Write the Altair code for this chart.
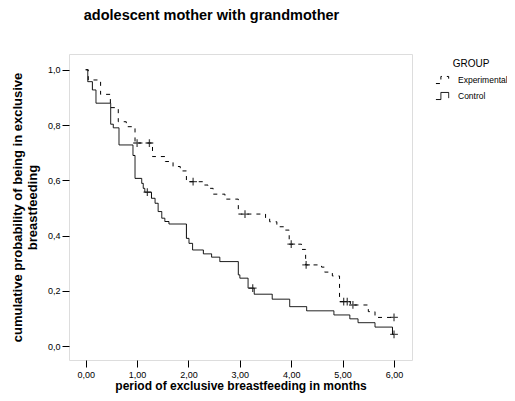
import altair as alt
import pandas as pd

# Kaplan-Meier step curves (time in months, cumulative probability)
exp_t = [0.0, 0.05, 0.29, 0.48, 0.634, 0.79, 0.96, 1.30, 1.55, 1.70, 1.84, 1.96, 2.29, 2.38, 2.48,
         2.71, 2.97, 3.50, 3.58, 3.72, 3.86, 3.96, 4.20, 4.28, 4.59, 4.65, 4.80, 4.94, 5.15, 5.50, 5.63, 6.0]
exp_s = [1.0, 0.963, 0.911, 0.863, 0.812, 0.794, 0.735, 0.686, 0.668, 0.650, 0.634, 0.595, 0.583, 0.571, 0.550,
         0.532, 0.478, 0.462, 0.450, 0.432, 0.420, 0.369, 0.350, 0.294, 0.286, 0.268, 0.254, 0.161, 0.149, 0.125, 0.104, 0.104]

ctl_t = [0.0, 0.04, 0.13, 0.20, 0.486, 0.537, 0.648, 0.92, 0.96, 1.09, 1.12, 1.15, 1.28, 1.35, 1.41, 1.48, 1.54,
         1.62, 1.96, 2.01, 2.08, 2.29, 2.45, 2.61, 2.97, 3.00, 3.16, 3.28, 3.63, 3.97, 4.30, 4.83, 5.14, 5.30, 5.63, 5.97, 6.0]
ctl_s = [1.0, 0.957, 0.927, 0.879, 0.803, 0.790, 0.728, 0.690, 0.607, 0.589, 0.571, 0.557, 0.535, 0.517, 0.487, 0.463, 0.451,
         0.442, 0.390, 0.372, 0.348, 0.334, 0.322, 0.306, 0.258, 0.246, 0.210, 0.188, 0.170, 0.143, 0.128, 0.113, 0.099, 0.085, 0.069, 0.043, 0.043]

# censored observations
exp_cens_t = [1.0, 1.24, 2.09, 3.10, 4.00, 4.29, 5.02, 5.09, 5.20, 6.0]
exp_cens_s = [0.735, 0.735, 0.595, 0.478, 0.369, 0.294, 0.161, 0.161, 0.149, 0.104]
ctl_cens_t = [1.20, 3.25, 6.0]
ctl_cens_s = [0.557, 0.210, 0.043]

groups = ["Experimental", "Control"]
x_ticks = [0, 1, 2, 3, 4, 5, 6]
y_ticks = [0.0, 0.2, 0.4, 0.6, 0.8, 1.0]

lines = pd.concat([
    pd.DataFrame({"t": exp_t, "s": exp_s, "GROUP": groups[0]}),
    pd.DataFrame({"t": ctl_t, "s": ctl_s, "GROUP": groups[1]}),
])
cens = pd.concat([
    pd.DataFrame({"t": exp_cens_t, "s": exp_cens_s, "GROUP": groups[0]}),
    pd.DataFrame({"t": ctl_cens_t, "s": ctl_cens_s, "GROUP": groups[1]}),
])

FONT = "Liberation Sans"

xscale = alt.Scale(domain=[-0.325, 6.35], nice=False, zero=False)
yscale = alt.Scale(domain=[-0.05, 1.057], nice=False, zero=False)

xaxis = alt.Axis(
    values=x_ticks,
    labelExpr="replace(format(datum.value, '.2f'), '.', ',')",
    title="period of exclusive breastfeeding in months",
    titleFontWeight="bold", titleFontSize=12, titleFont=FONT, titleColor="black",
    titleY=25, titleBaseline="middle",
    labelFont=FONT, labelFontSize=9, labelColor="black", labelPadding=3,
    tickSize=7, tickColor="black", domain=False, grid=False,
)
yaxis = alt.Axis(
    values=y_ticks,
    labelExpr="replace(format(datum.value, '.1f'), '.', ',')",
    title=["cumulative probability of being in exclusive", "breastfeeding"],
    titleFontWeight="bold", titleFontSize=13, titleFont=FONT, titleColor="black",
    titleX=-52, titleBaseline="middle", titleLineHeight=15,
    labelFont=FONT, labelFontSize=9, labelColor="black", labelPadding=2,
    tickSize=7, tickColor="black", domain=False, grid=False,
)

dash = alt.StrokeDash(
    "GROUP:N",
    scale=alt.Scale(domain=groups, range=[[4, 5], [1, 0]]),
    legend=alt.Legend(
        title="GROUP", orient="none", legendX=366, legendY=5,
        titleFont=FONT, titleFontSize=10, titleFontWeight="normal", titleColor="black",
        titleAnchor="middle", titlePadding=3,
        labelFont=FONT, labelFontSize=8.5, labelColor="black", labelOffset=7, labelLimit=200,
        symbolType="M-1,0.5H-0.3V-0.5H0.8V0.3", symbolSize=200,
        symbolStrokeColor="black", symbolStrokeWidth=1, symbolFillColor="transparent",
        rowPadding=2,
    ),
)

line_layer = alt.Chart(lines).mark_line(
    interpolate="step-after", color="black", strokeWidth=1
).encode(
    x=alt.X("t:Q", scale=xscale, axis=xaxis),
    y=alt.Y("s:Q", scale=yscale, axis=yaxis),
    strokeDash=dash,
    detail="GROUP:N",
)

cens_layer = alt.Chart(cens).mark_point(
    shape="M-1,0H1M0,-1V1", size=60, color="black", strokeWidth=1.3, filled=False
).encode(
    x=alt.X("t:Q", scale=xscale),
    y=alt.Y("s:Q", scale=yscale),
)

chart = alt.layer(line_layer, cens_layer).properties(
    width=343, height=306,
    padding={"left": 61, "top": 46, "right": 95, "bottom": 33},
    autosize=alt.AutoSizeParams(type="none"),
    title=alt.TitleParams(
        "adolescent mother with grandmother", anchor="middle", frame="group",
        dx=-29, offset=24, font=FONT, fontSize=14.5, fontWeight="bold", color="black",
        baseline="middle",
    ),
).configure_view(stroke="black", strokeWidth=1).configure(background="white")

chart.save("out.html", embed_options={"renderer": "svg", "actions": False})
